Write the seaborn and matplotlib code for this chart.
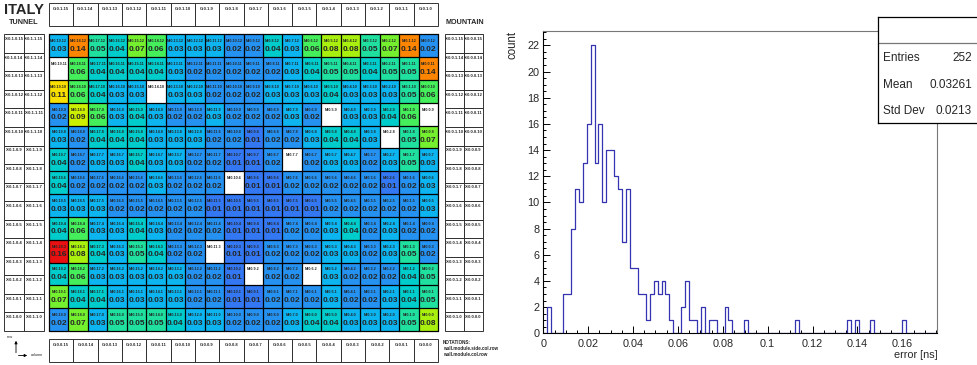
import numpy as np
import pandas as pd
import matplotlib
matplotlib.use('Agg')
import matplotlib.pyplot as plt
import seaborn as sns
from matplotlib.colors import LinearSegmentedColormap
from matplotlib.patches import Rectangle
from matplotlib.ticker import MultipleLocator

sns.set_style('white')
plt.rcParams['font.family'] = ['Liberation Sans', 'DejaVu Sans']

# ---- data: timing error per module (wall 0), rows 12..0, columns 19..0
cols = list(range(19, -1, -1))
rows = list(range(12, -1, -1))
N = None
error_grid = [
    [0.03, 0.14, 0.05, 0.04, 0.07, 0.06, 0.03, 0.03, 0.03, 0.02, 0.02, 0.04, 0.03, 0.06, 0.08, 0.08, 0.05, 0.07, 0.14, 0.02],
    [N, 0.06, 0.04, 0.04, 0.04, 0.04, 0.03, 0.02, 0.02, 0.02, 0.02, 0.02, 0.03, 0.04, 0.05, 0.05, 0.04, 0.05, 0.05, 0.14],
    [0.11, 0.06, 0.04, 0.03, 0.03, N, 0.03, 0.03, 0.02, 0.02, 0.02, 0.03, 0.03, 0.03, 0.04, 0.03, 0.03, 0.03, 0.05, 0.06],
    [0.02, 0.09, 0.06, 0.03, 0.04, 0.03, 0.02, 0.02, 0.03, 0.02, 0.02, 0.02, 0.03, 0.02, N, 0.03, 0.03, 0.04, 0.06, N],
    [0.03, 0.02, 0.04, 0.04, 0.04, 0.03, 0.03, 0.03, 0.02, 0.02, 0.01, 0.02, 0.02, 0.03, 0.04, 0.04, 0.03, N, 0.05, 0.07],
    [0.04, 0.02, 0.03, 0.03, 0.04, 0.03, 0.03, 0.02, 0.02, 0.01, 0.01, 0.02, N, 0.02, 0.03, 0.03, 0.02, 0.03, 0.05, 0.03],
    [0.04, 0.02, 0.02, 0.02, 0.02, 0.03, 0.02, 0.02, 0.02, N, 0.01, 0.01, 0.02, 0.02, 0.02, 0.02, 0.02, 0.01, 0.02, 0.03],
    [0.03, 0.03, 0.03, 0.02, 0.02, 0.02, 0.02, 0.02, 0.01, 0.01, 0.01, 0.01, 0.01, 0.01, 0.02, 0.02, 0.02, 0.02, 0.02, 0.03],
    [0.04, 0.06, 0.03, 0.03, 0.04, 0.03, 0.02, 0.02, 0.02, 0.01, 0.01, 0.01, 0.02, 0.02, 0.03, 0.04, 0.02, 0.03, 0.02, 0.02],
    [0.16, 0.08, 0.04, 0.03, 0.05, 0.04, 0.02, 0.02, N, 0.01, 0.01, 0.02, 0.02, 0.02, 0.03, 0.03, 0.02, 0.03, 0.05, 0.02],
    [0.04, 0.06, 0.03, 0.03, 0.03, 0.03, 0.03, 0.02, 0.02, 0.01, N, 0.02, 0.02, N, 0.03, 0.02, 0.02, 0.02, 0.04, 0.05],
    [0.07, 0.04, 0.04, 0.03, 0.03, 0.03, 0.03, 0.02, 0.02, 0.01, 0.01, 0.02, 0.02, 0.02, 0.03, 0.02, 0.02, 0.03, 0.04, 0.05],
    [0.02, 0.07, 0.03, 0.05, 0.05, 0.05, 0.04, 0.03, 0.03, 0.02, 0.02, 0.02, 0.03, 0.04, 0.04, 0.03, 0.03, 0.03, 0.05, 0.08],
]
top_groups = list(range(15, -1, -1))
side_rows = list(range(15, -1, -1))

# ---- data: histogram of the errors (100 bins)
hist_xmax = 0.1756
hist_counts = [
    0, 2, 0, 0, 0, 3, 3, 8, 11, 10,
    13, 16, 22, 13, 16, 10, 14, 14, 12, 11,
    7, 11, 5, 5, 3, 3, 1, 3, 4, 3,
    4, 3, 1, 0, 0, 2, 4, 1, 1, 0,
    2, 0, 1, 1, 0, 0, 2, 1, 0, 0,
    0, 1, 0, 0, 0, 0, 0, 0, 0, 0,
    0, 0, 0, 0, 1, 0, 0, 0, 0, 0,
    0, 0, 0, 0, 0, 0, 0, 1, 0, 1,
    0, 0, 0, 1, 0, 0, 0, 0, 0, 0,
    0, 1, 0, 0, 0, 0, 0, 0, 0, 0,
]
stat_names = ['Entries', 'Mean', 'Std Dev']
stat_values = ['252', '0.03261', '0.0213']

# ---- palette (ROOT-like rainbow)
anchors = [(0.0, '#4848e6'), (0.01, '#3378f2'), (0.02, '#2592f2'), (0.03, '#0cb4f0'),
           (0.04, '#00cccc'), (0.05, '#1ee0a0'), (0.06, '#44ee5c'), (0.07, '#74f030'),
           (0.08, '#a8f010'), (0.09, '#ccf000'), (0.11, '#f8e000'), (0.14, '#ff8800'),
           (0.16, '#e81010')]
cmap = LinearSegmentedColormap.from_list('root', [(v / 0.16, c) for v, c in anchors])

W, H = 977, 365
fig = plt.figure(figsize=(W / 100, H / 100), dpi=100)


def fbox(x0, y0, x1, y1):
    return [x0 / W, 1 - y1 / H, (x1 - x0) / W, (y1 - y0) / H]


lay = fig.add_axes([0, 0, 1, 1])
lay.set_xlim(0, W)
lay.set_ylim(H, 0)
lay.axis('off')

small = dict(fontsize=3.0, weight='bold', ha='center', va='center')

# header / footer group boxes
gx0, gx1 = 49, 438
gw = (gx1 - gx0) / len(top_groups)
for k, g in enumerate(top_groups):
    x = gx0 + k * gw
    lay.add_patch(Rectangle((x, 3), gw, 23, fill=False, lw=0.7, ec='#333333'))
    lay.text(x + gw / 2, 9.5, f'G:0.1.{g}', **small)
    lay.add_patch(Rectangle((x, 339), gw, 23, fill=False, lw=0.7, ec='#333333'))
    lay.text(x + gw / 2, 345.5, f'G:0.0.{g}', **small)

# side boxes
sy0, sy1 = 34.3, 331
sh = (sy1 - sy0) / len(side_rows)
for k, r in enumerate(side_rows):
    y = sy0 + k * sh
    for x, lab in [(4, f'X:0.1.0.{r}'), (24, f'X:0.1.1.{r}'),
                   (445, f'X:0.0.1.{r}'), (464, f'X:0.0.0.{r}')]:
        w = 20 if x in (4, 24) else 19
        lay.add_patch(Rectangle((x, y), w, sh, fill=False, lw=0.7, ec='#333333'))
        lay.text(x + w / 2, y + 4.8, lab, **small)

lay.text(24, 9.5, 'ITALY', fontsize=10.5, weight='bold', ha='center', va='center',
         family=['Liberation Sans Narrow', 'Liberation Sans'])
lay.text(24, 22.5, 'TUNNEL', fontsize=5.2, weight='bold', ha='center', va='center')
lay.text(465, 22.5, 'MOUNTAIN', fontsize=5.2, weight='bold', ha='center', va='center')

# row / column arrows
lay.annotate('', xy=(16, 338), xytext=(16, 355.5),
             arrowprops=dict(arrowstyle='-|>', lw=0.6, color='black', mutation_scale=4))
lay.annotate('', xy=(30, 355.5), xytext=(15.7, 355.5),
             arrowprops=dict(arrowstyle='-|>', lw=0.6, color='black', mutation_scale=4))
lay.text(10, 337.5, 'row', fontsize=2.8, ha='center', va='center')
lay.text(31, 355.5, 'column', fontsize=2.8, ha='left', va='center')

lay.text(443, 343, 'NOTATIONS:', fontsize=3.3, weight='bold', ha='left', va='center')
lay.text(443, 349, 'wall.module.side.col.row', fontsize=3.3, weight='bold', ha='left', va='center')
lay.text(443, 354.5, 'wall.module.col.row', fontsize=3.3, weight='bold', ha='left', va='center')

# ---- heatmap of module errors
hm = fig.add_axes(fbox(gx0, sy0, gx1, sy1))
df = pd.DataFrame(error_grid, index=rows, columns=cols, dtype=float)
sns.heatmap(df, ax=hm, cmap=cmap, vmin=0, vmax=0.16, cbar=False, mask=df.isna(),
            xticklabels=False, yticklabels=False)
hm.set_facecolor('white')
for i in range(len(rows) + 1):
    hm.axhline(i, color='black', lw=0.9, clip_on=False)
for j in range(len(cols) + 1):
    hm.axvline(j, color='black', lw=0.9, clip_on=False)
for i, r in enumerate(rows):
    for j, c in enumerate(cols):
        hm.text(j + 0.5, i + 0.3, f'M:0.{c}.{r}', fontsize=2.7, weight='bold',
                ha='center', va='center')
        v = df.iloc[i, j]
        if not np.isnan(v):
            hm.text(j + 0.5, i + 0.66, f'{v:.2f}', fontsize=6, weight='bold',
                    ha='center', va='center')

# ---- histogram
ax = fig.add_axes(fbox(543.3, 31, 937.3, 333.3))
nbins = len(hist_counts)
width = hist_xmax / nbins
hist_df = pd.DataFrame({'error': (np.arange(nbins) + 0.5) * width, 'count': hist_counts})
sns.histplot(data=hist_df, x='error', weights='count', bins=nbins, binrange=(0, hist_xmax),
             element='step', fill=False, color='#3434b0', linewidth=0.9, ax=ax)
ax.set_xlim(0, hist_xmax)
ax.set_ylim(0, 23.1)
ax.xaxis.set_major_locator(MultipleLocator(0.02))
ax.xaxis.set_minor_locator(MultipleLocator(0.005))
ax.yaxis.set_major_locator(MultipleLocator(2))
ax.yaxis.set_minor_locator(MultipleLocator(0.5))
ax.set_xticks(np.arange(0, 0.17, 0.02))
ax.set_xticklabels(['0', '0.02', '0.04', '0.06', '0.08', '0.1', '0.12', '0.14', '0.16'])
ax.tick_params(which='both', direction='in', labelsize=7.8, color='black', width=0.7,
               bottom=True, left=True, top=False, right=False)
ax.tick_params(axis='y', which='major', length=5, pad=2.8)
ax.tick_params(axis='x', which='major', length=5, pad=4)
ax.tick_params(which='minor', length=2.5)
for s in ['left', 'bottom']:
    ax.spines[s].set_color('black')
    ax.spines[s].set_linewidth(0.8)
for s in ['top', 'right']:
    ax.spines[s].set_color('#777777')
    ax.spines[s].set_linewidth(0.8)
ax.set_xlabel('error [ns]', loc='right', fontsize=7.8, labelpad=1)
ax.set_ylabel('count', loc='top', fontsize=8.3, labelpad=6)

# stats box
st = fig.add_axes(fbox(878, 17, 1005, 123))
st.set_xlim(878, 1005)
st.set_ylim(123, 17)
st.set_xticks([])
st.set_yticks([])
st.set_facecolor('white')
for s in st.spines.values():
    s.set_color('black')
    s.set_linewidth(0.9)
st.axhline(43, color='#777777', lw=0.9)
for k, (name, val) in enumerate(zip(stat_names, stat_values)):
    y = 58 + k * 26.5
    st.text(883, y, name, fontsize=8.5, ha='left', va='center')
    st.text(972, y, val, fontsize=8.5, ha='right', va='center')

fig.savefig('out.png', dpi=100)
